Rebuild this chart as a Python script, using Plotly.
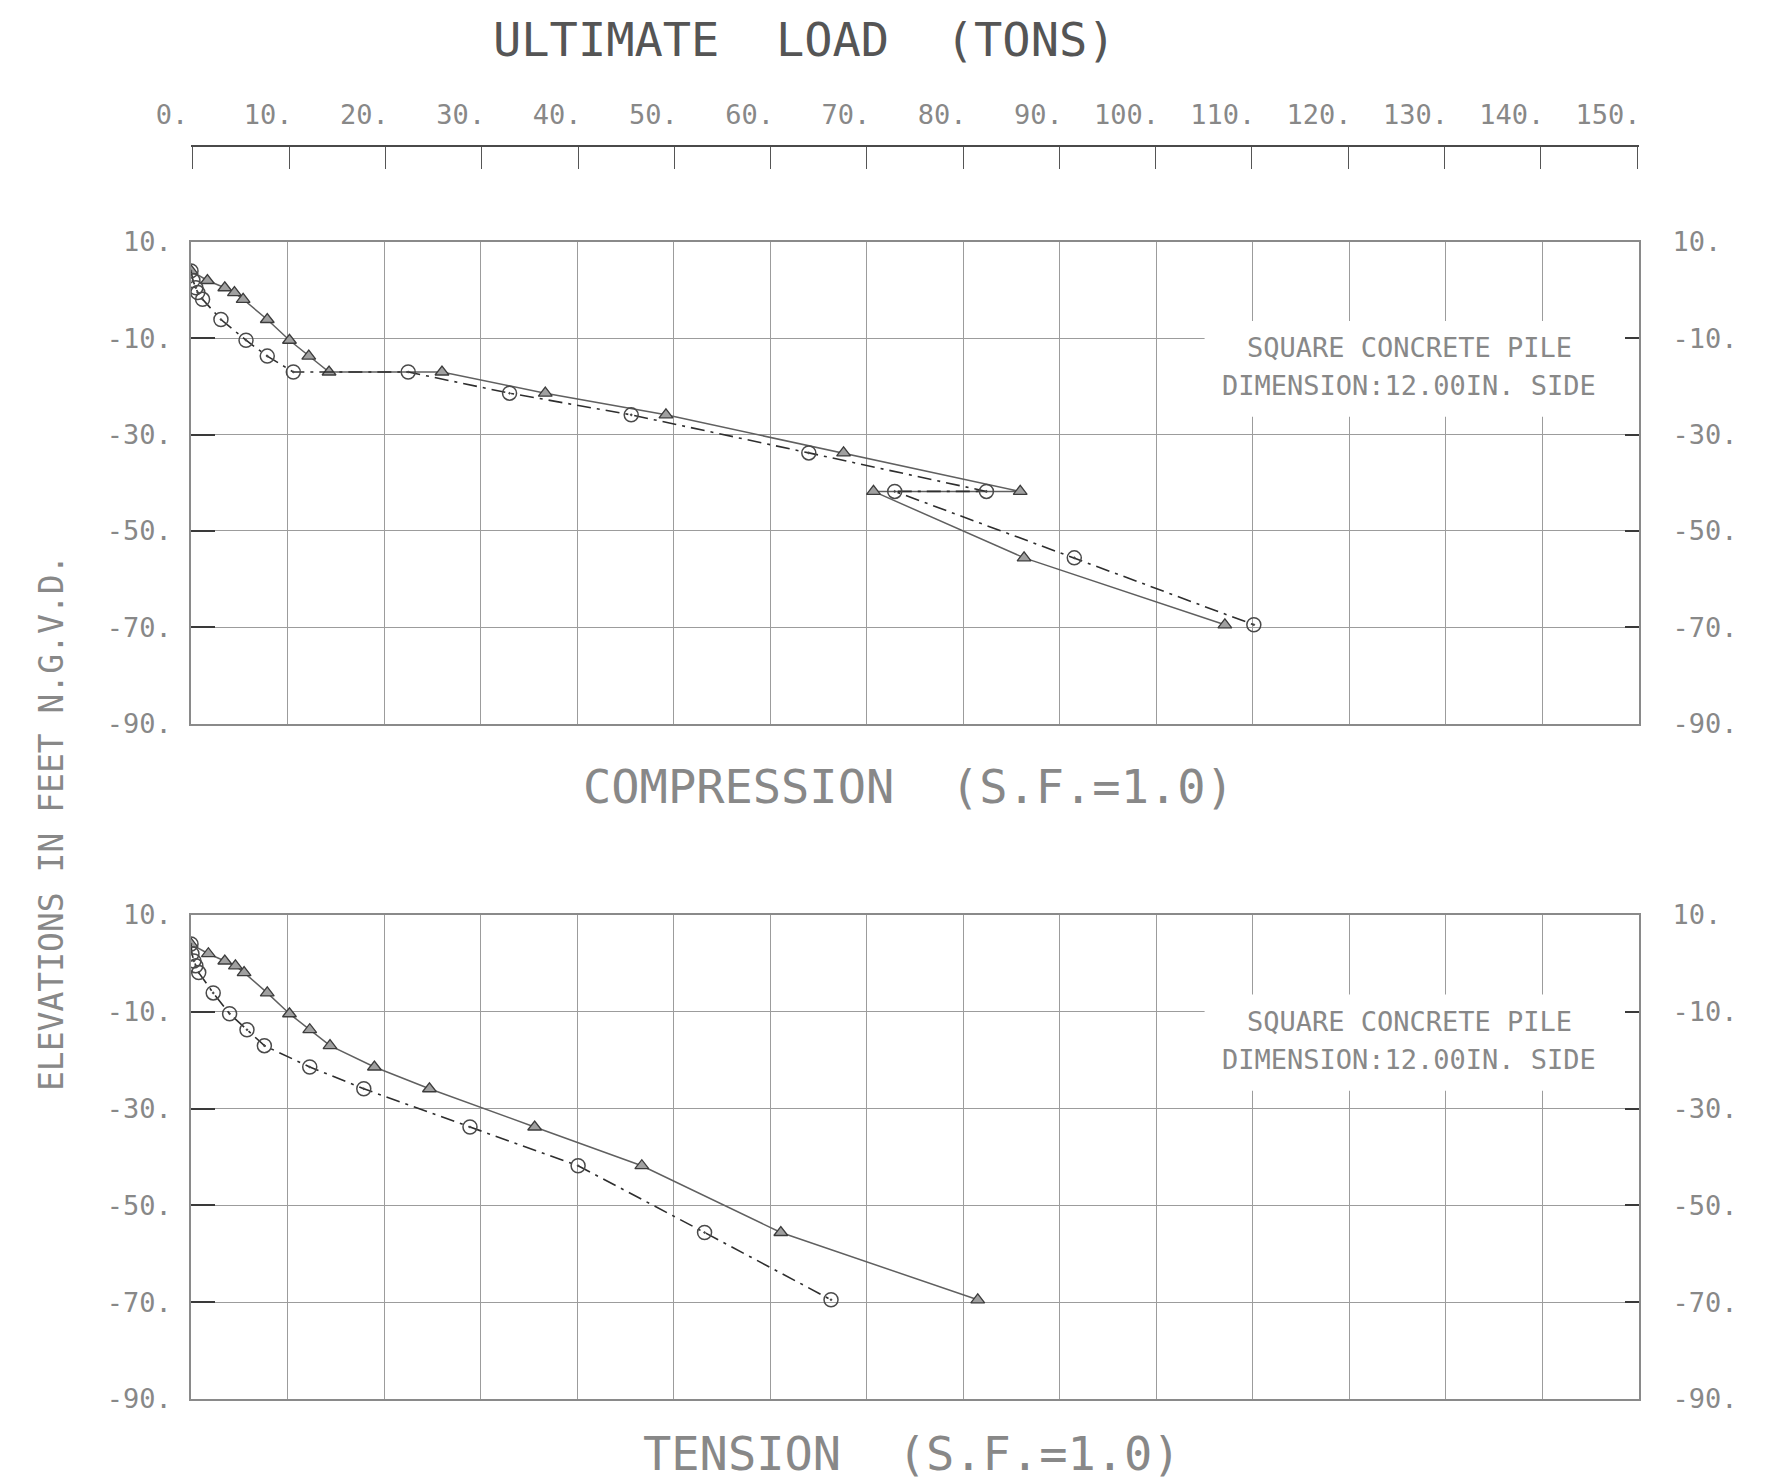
import plotly.graph_objects as go

# ---------------- data ----------------
elev_comp = [4.0, 2.0, 0.5, -0.5, -1.9, -6.1, -10.4, -13.7, -17.0, -17.0,
             -21.4, -25.9, -33.8, -41.8, -41.8, -55.6, -69.5]
comp_tri = [0.0, 1.7, 3.5, 4.5, 5.4, 7.9, 10.2, 12.2, 14.3, 26.0,
            36.7, 49.2, 67.6, 85.9, 70.7, 86.3, 107.1]
comp_cir = [0.0, 0.2, 0.5, 0.7, 1.2, 3.1, 5.7, 7.9, 10.6, 22.5,
            33.0, 45.6, 64.0, 82.4, 72.9, 91.5, 110.1]

elev_tens = [4.0, 2.0, 0.5, -0.5, -1.9, -6.1, -10.4, -13.7, -17.0,
             -21.4, -25.9, -33.8, -41.8, -55.6, -69.5]
tens_tri = [0.0, 1.8, 3.5, 4.6, 5.5, 7.9, 10.2, 12.3, 14.4,
            19.0, 24.7, 35.6, 46.7, 61.1, 81.5]
tens_cir = [0.0, 0.1, 0.3, 0.5, 0.8, 2.3, 4.0, 5.8, 7.6,
            12.3, 17.9, 28.9, 40.1, 53.2, 66.3]

load_ticks = list(range(0, 151, 10))
load_ticktext = [f"{v}." for v in load_ticks]
elev_ticks = [10, -10, -30, -50, -70, -90]
elev_ticktext = [f"{v}." for v in elev_ticks]

note_lines = ["SQUARE CONCRETE PILE", "DIMENSION:12.00IN. SIDE"]

# ---------------- style ----------------
FONT = "DejaVu Sans Mono"
TXT = "#888888"
GRID = "#9c9c9c"
OFF = 8                      # default body margin of the html page
W, H = 1787 - OFF, 1482 - OFF
ML = 191 - OFF
MT = 146 - OFF
MR = W - (1639 - OFF)
MB = H - (1399 - OFF)
pw = W - ML - MR
ph = H - MT - MB


def px(full_x):
    return (full_x - OFF - ML) / pw


def py(full_y):
    return 1 - (full_y - OFF - MT) / ph


fig = go.Figure()


def add_panel(xa, ya, elev, tri, cir):
    fig.add_trace(go.Scatter(
        x=tri, y=elev, xaxis=xa, yaxis=ya, mode="lines+markers",
        line=dict(color="#606060", width=1.5),
        marker=dict(symbol="triangle-up", size=12, color="#a0a0a0",
                    line=dict(color="#3c3c3c", width=1.3)),
        showlegend=False, hoverinfo="skip"))
    fig.add_trace(go.Scatter(
        x=cir, y=elev, xaxis=xa, yaxis=ya, mode="lines+markers",
        line=dict(color="#2e2e2e", width=1.6, dash="14px,6px,3px,6px"),
        marker=dict(symbol="circle-open-dot", size=14, color="#4a4a4a",
                    line=dict(width=1.5)),
        showlegend=False, hoverinfo="skip"))


add_panel("x", "y", elev_comp, comp_tri, comp_cir)
add_panel("x2", "y2", elev_tens, tens_tri, tens_cir)

# empty traces so that the secondary axes (top load scale, right elevation scales) are drawn
for xa, ya in [("x3", "y"), ("x", "y3"), ("x2", "y4")]:
    fig.add_trace(go.Scatter(x=[], y=[], xaxis=xa, yaxis=ya, mode="markers",
                             showlegend=False, hoverinfo="skip"))

up_dom = [py(723.5), py(242)]
lo_dom = [py(1399), py(915)]

TICK_SIZE = 27
tickfont = dict(family=FONT, size=TICK_SIZE, color=TXT)
CHAR_W = 0.602 * TICK_SIZE


def xax(anchor):
    return dict(domain=[0, 1], anchor=anchor, range=[0, 150], tick0=0, dtick=10,
                showgrid=True, gridcolor=GRID, gridwidth=1.3, showticklabels=False,
                ticks="", showline=True, mirror=True, linecolor="#8a8a8a",
                linewidth=1.5, zeroline=False)


right_text = ["&nbsp;&nbsp;" + t for t in elev_ticktext]


def yax_left(dom, anchor):
    return dict(domain=dom, anchor=anchor, range=[-90, 10], tickvals=elev_ticks,
                ticktext=elev_ticktext, showgrid=True, gridcolor=GRID, gridwidth=1.3,
                ticks="inside", ticklen=24, tickwidth=2.2, tickcolor="#3a3a3a",
                showline=True, mirror=True, linecolor="#8a8a8a", linewidth=1.5,
                zeroline=False, tickfont=tickfont, ticklabelstandoff=12)


def yax_right(over, anchor):
    return dict(overlaying=over, anchor=anchor, side="right", range=[-90, 10],
                tickvals=elev_ticks, ticktext=right_text, showgrid=False,
                ticks="inside", ticklen=14, tickwidth=2.2, tickcolor="#3a3a3a",
                showline=False, zeroline=False, tickfont=tickfont)


# top scale labels: right-aligned on their ticks (pad long labels, shift all)
top_text = [t + "&nbsp;" * max(0, len(t) - 3) for t in load_ticktext]
top_shift = int(round(3 - 1.5 * CHAR_W))

fig.update_layout(
    width=W, height=H,
    margin=dict(l=ML, r=MR, t=MT, b=MB, autoexpand=False),
    paper_bgcolor="white", plot_bgcolor="white",
    xaxis=xax("y"),
    yaxis=yax_left(up_dom, "x"),
    xaxis2=xax("y2"),
    yaxis2=yax_left(lo_dom, "x2"),
    yaxis3=yax_right("y", "x"),
    yaxis4=yax_right("y2", "x2"),
    xaxis3=dict(overlaying="x", anchor="free", position=1, side="top",
                range=[-0.2, 150.2], tickvals=load_ticks, ticktext=top_text,
                tickangle=0, ticklabelshift=top_shift,
                ticks="inside", ticklen=22, tickwidth=1.3, tickcolor="#555555",
                showline=True, linecolor="#4a4a4a", linewidth=2.2,
                showgrid=False, zeroline=False, tickfont=tickfont,
                ticklabelstandoff=10),
)

# white boxes behind the pile notes (grid interrupted)
for xr, yr in [("x", "y"), ("x2", "y2")]:
    fig.add_shape(type="rect", xref=xr, yref=yr, x0=105, x1=149.8, y0=-26.3, y1=-6.4,
                  fillcolor="white", line=dict(width=0), layer="between")
    fig.add_annotation(xref=xr, yref=yr, x=126.2, y=-11.9, text=note_lines[0],
                       xanchor="center", yanchor="middle",
                       showarrow=False, font=dict(family=FONT, size=27, color=TXT))
    fig.add_annotation(xref=xr, yref=yr, x=126.2, y=-19.8, text=note_lines[1],
                       xanchor="center", yanchor="middle",
                       showarrow=False, font=dict(family=FONT, size=27, color=TXT))


def label(x, y, text, size, color=TXT, angle=0):
    fig.add_annotation(xref="paper", yref="paper", x=px(x), y=py(y), text=text,
                       xanchor="center", yanchor="middle", textangle=angle,
                       showarrow=False, font=dict(family=FONT, size=size, color=color))


label(804, 40, "ULTIMATE&nbsp;&nbsp;LOAD&nbsp;&nbsp;(TONS)", 47, "#555555")
label(908, 786, "COMPRESSION&nbsp;&nbsp;(S.F.=1.0)", 47)
label(912, 1453, "TENSION&nbsp;&nbsp;(S.F.=1.0)", 47)
label(51, 823, "ELEVATIONS IN FEET N.G.V.D.", 33, angle=-90)

fig.write_html("out.html")
